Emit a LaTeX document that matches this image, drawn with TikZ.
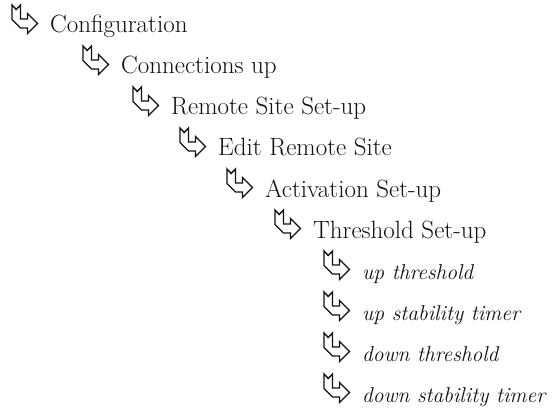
\documentclass[tikz,border=0pt]{standalone}
\usepackage{fontspec}
\usetikzlibrary{positioning}
\definecolor{MenuInk}{HTML}{111111}
\definecolor{MenuPaper}{HTML}{FFFFFF}
\tikzset{
  every node/.style={text=MenuInk, inner sep=0pt, anchor=base west},
  menuitem/.style={font=\fontsize{25}{30}\selectfont},
  leafitem/.style={font=\fontsize{21.5}{26}\selectfont\itshape},
  bentarrow/.pic={
    \draw[draw=MenuInk, line width=1.4pt, line join=miter, fill=MenuPaper]
      (0,0) -- (4.2,4.5) -- (8.5,0) -- (8.5,14) -- (15.5,14) -- (15.5,8.5)
      -- (25.5,18.5) -- (15.5,28.5) -- (15.5,23) -- (8.5,23) -- (0,14.5) -- cycle;
  },
}

\begin{document}
\begin{tikzpicture}[x=1pt,y=-1pt]
  \useasboundingbox[fill=MenuPaper] (0,0) rectangle (559,414);

  % Menu path, one level deeper per line
  \pic at (12,5) {bentarrow};
  \node[menuitem] (config) at (50,33) {Configuration};
  \pic at (83,46) {bentarrow};
  \node[menuitem] (connup) at (121,74) {Connections up};
  \pic at (133,87) {bentarrow};
  \node[menuitem] (remote) at (171,115) {Remote Site Set-up};
  \pic at (180,128) {bentarrow};
  \node[menuitem] (editsite) at (218,156) {Edit Remote Site};
  \pic at (227,169) {bentarrow};
  \node[menuitem] (activ) at (265,197) {Activation Set-up};
  \pic at (275,210) {bentarrow};
  \node[menuitem] (thresh) at (313,238) {Threshold Set-up};

  % Parameters of the threshold set-up
  \pic at (324,251) {bentarrow};
  \node[leafitem] (upthr) at (362,279) {up threshold};
  \pic at (324,292) {bentarrow};
  \node[leafitem] (uptimer) at (362,320) {up stability timer};
  \pic at (324,333) {bentarrow};
  \node[leafitem] (downthr) at (362,361) {down threshold};
  \pic at (324,374) {bentarrow};
  \node[leafitem] (downtimer) at (362,402) {down stability timer};
\end{tikzpicture}
\end{document}
